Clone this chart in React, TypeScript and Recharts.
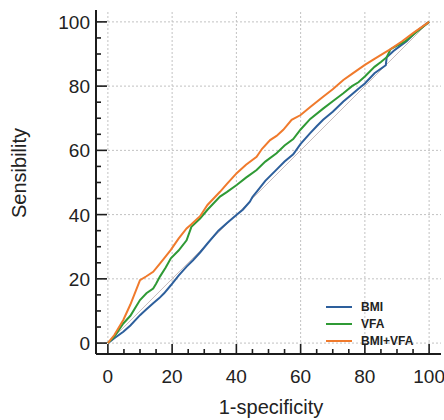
import { LineChart, Line, XAxis, YAxis, ReferenceLine } from "recharts";

// ROC points (x = 1-specificity, y = sensitivity, in %)
const BMI_X = [0, 2, 4.8, 7, 10, 12, 14.1, 16, 17.5, 19.6, 22, 24.5, 26.5, 28.7, 31, 34.4, 37, 40, 42, 44.2, 45, 46.3, 49, 52.5, 55, 57.7, 60, 62.9, 65, 67, 70, 73.3, 76, 78, 80, 83, 86.5, 86.8, 89, 93, 96, 100];
const BMI_Y = [0, 1.5, 3.5, 5.5, 8.7, 10.5, 12.4, 14, 15.5, 18, 21, 23.8, 25.8, 28.2, 31, 35, 37.3, 39.9, 41.5, 44, 45.5, 47.1, 50.5, 54, 56.5, 58.8, 62, 65.3, 67.5, 69.5, 72, 75.2, 77.5, 79.2, 80.8, 84, 86.5, 89, 91, 94, 97, 100];

const VFA_X = [0, 2, 4.8, 7, 10, 12, 14.1, 15, 16.2, 18, 19.6, 22, 24.5, 26, 28.7, 31, 34.9, 37, 40.1, 43, 46.3, 49, 52.5, 55, 57.7, 60, 63, 67, 70, 73.3, 76, 78, 80, 83, 85, 86.8, 88, 92.5, 96, 100];
const VFA_Y = [0, 2, 6.1, 8.5, 13.4, 15.5, 17, 18.5, 20.7, 23.5, 26.4, 28.8, 32, 36.2, 38.8, 41.5, 45.6, 47, 49.2, 51.5, 53.9, 56.5, 59.1, 61.5, 63.5, 66.5, 69.8, 73, 75.3, 77.8, 80, 81.2, 83, 86, 87.5, 89, 91.5, 93.9, 96.8, 100];

const COMB_X = [0, 2, 4.8, 7, 10, 12, 14.1, 16, 18, 19.6, 22, 24.5, 26, 28.7, 31, 34.9, 37, 40.1, 43, 46.3, 48, 50.5, 52.5, 54.6, 57.2, 60, 63, 67, 70, 73.3, 76, 80, 83, 85.8, 88, 91.5, 95, 100];
const COMB_Y = [0, 2.5, 7.2, 12, 19.6, 20.8, 22.2, 24.5, 27, 29, 32.5, 35.7, 37, 39.5, 43, 47.1, 49.5, 52.9, 55.5, 58, 60.5, 63.2, 64.5, 66.4, 69.5, 71, 73.5, 76.7, 79, 81.9, 83.8, 86.6, 88.5, 90.2, 91.5, 93.9, 96.5, 100];

const MAJOR_TICKS = [0, 20, 40, 60, 80, 100];
const ALL_TICKS = [0, 5, 10, 15, 20, 25, 30, 35, 40, 45, 50, 55, 60, 65, 70, 75, 80, 85, 90, 95, 100];
const X_DOMAIN = [-3.7, 103.7];
const Y_DOMAIN = [-3.4, 103.7];

const SERIES = [
  { name: "BMI", xs: BMI_X, ys: BMI_Y, color: "#2d5f9c" },
  { name: "VFA", xs: VFA_X, ys: VFA_Y, color: "#2f9a35" },
  { name: "BMI+VFA", xs: COMB_X, ys: COMB_Y, color: "#f07a2c" },
];

const FONT = "'Liberation Sans', Arial, sans-serif";
const AXIS = "#1c1c1c";
const GRID = "#c2c2c2";

function XTick({ x, y, payload }: any) {
  const major = payload.value % 20 === 0;
  return (
    <g>
      <line x1={x} x2={x} y1={y} y2={y - (major ? 10 : 5)} stroke={AXIS} strokeWidth={1.6} />
      {major && (
        <text x={x} y={y + 29} textAnchor="middle" fontSize={19} fontFamily={FONT} fill="#222">
          {payload.value}
        </text>
      )}
    </g>
  );
}

function YTick({ x, y, payload }: any) {
  const major = payload.value % 20 === 0;
  return (
    <g>
      <line x1={x} x2={x + (major ? 11 : 5)} y1={y} y2={y} stroke={AXIS} strokeWidth={1.6} />
      {major && (
        <text x={x - 6} y={y + 7} textAnchor="end" fontSize={19} fontFamily={FONT} fill="#222">
          {payload.value}
        </text>
      )}
    </g>
  );
}

export default function App() {
  return (
    <div style={{ position: "absolute", left: 0, top: 0, width: 444, height: 420, background: "#fff" }}>
      <LineChart width={444} height={420} margin={{ top: 10, right: 3, bottom: 0, left: 0 }}>
        <XAxis
          type="number"
          dataKey="x"
          domain={X_DOMAIN}
          ticks={ALL_TICKS}
          interval={0}
          tickSize={0}
          tickMargin={0}
          tick={<XTick />}
          tickLine={false}
          axisLine={{ stroke: AXIS, strokeWidth: 2 }}
          height={66}
          allowDataOverflow
        />
        <YAxis
          type="number"
          dataKey="y"
          domain={Y_DOMAIN}
          ticks={ALL_TICKS}
          interval={0}
          tickSize={0}
          tickMargin={0}
          tick={<YTick />}
          tickLine={false}
          axisLine={{ stroke: AXIS, strokeWidth: 2 }}
          width={96}
          allowDataOverflow
        />
        {/* dotted grid at the major ticks */}
        {MAJOR_TICKS.map((v) => (
          <ReferenceLine
            key={"gx" + v}
            segment={[{ x: v, y: Y_DOMAIN[0] }, { x: v, y: Y_DOMAIN[1] }]}
            stroke={GRID}
            strokeWidth={1}
            strokeDasharray="2 2"
          />
        ))}
        {MAJOR_TICKS.map((v) => (
          <ReferenceLine
            key={"gy" + v}
            segment={[{ x: X_DOMAIN[0], y: v }, { x: X_DOMAIN[1], y: v }]}
            stroke={GRID}
            strokeWidth={1}
            strokeDasharray="2 2"
          />
        ))}
        <ReferenceLine segment={[{ x: 0, y: 0 }, { x: 100, y: 100 }]} stroke="#c9bcbc" strokeWidth={1} />
        {SERIES.map((s) => (
          <Line
            key={s.name}
            name={s.name}
            data={s.xs.map((x, i) => ({ x, y: s.ys[i] }))}
            dataKey="y"
            type="linear"
            stroke={s.color}
            strokeWidth={2}
            dot={false}
            activeDot={false}
            isAnimationActive={false}
          />
        ))}
        <text x={271} y={414} textAnchor="middle" fontSize={20} fontFamily={FONT} fill="#222">
          1-specificity
        </text>
        <text
          x={26}
          y={173}
          textAnchor="middle"
          fontSize={20}
          fontFamily={FONT}
          fill="#222"
          transform="rotate(-90 26 173)"
        >
          Sensibility
        </text>
      </LineChart>
      <div style={{ position: "absolute", left: 326, top: 298, fontFamily: FONT }}>
        {SERIES.map((s) => (
          <div key={s.name} style={{ display: "flex", alignItems: "center", height: 17 }}>
            <span style={{ width: 26, height: 2, background: s.color, marginRight: 9 }} />
            <span style={{ fontSize: 12, fontWeight: 700, color: "#222" }}>{s.name}</span>
          </div>
        ))}
      </div>
    </div>
  );
}
